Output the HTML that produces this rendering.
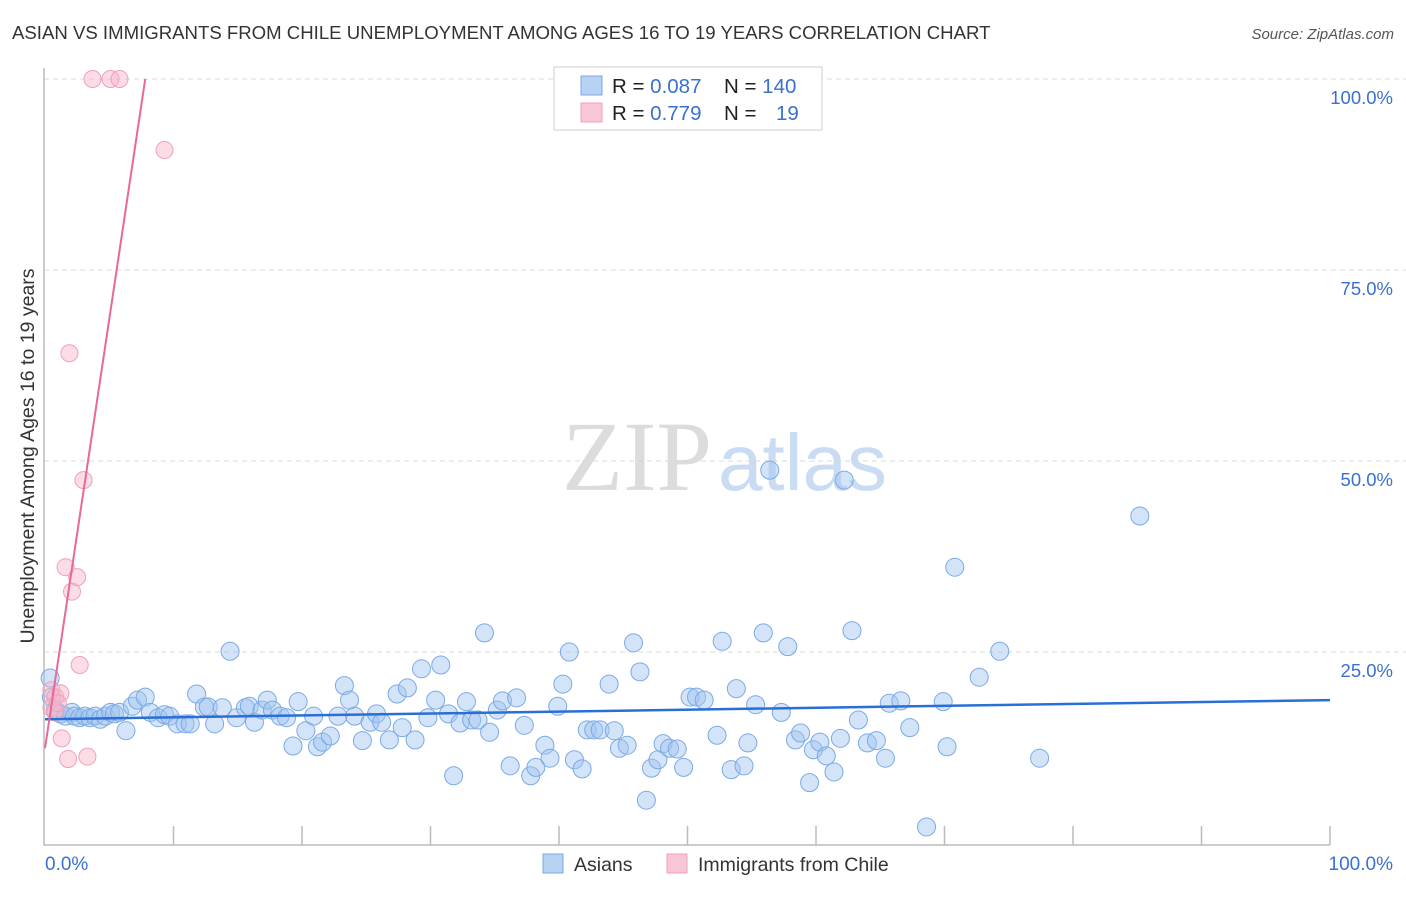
<!DOCTYPE html>
<html><head><meta charset="utf-8"><style>
body{margin:0;background:#fff;font-family:"Liberation Sans",sans-serif}
</style></head><body>
<svg id="chart" width="1406" height="892" viewBox="0 0 1406 892" xmlns="http://www.w3.org/2000/svg" font-family="Liberation Sans, sans-serif">
<text x="12" y="39" font-size="18.6" fill="#333">ASIAN VS IMMIGRANTS FROM CHILE UNEMPLOYMENT AMONG AGES 16 TO 19 YEARS CORRELATION CHART</text>
<text x="1394" y="39" font-size="15" fill="#555" font-style="italic" text-anchor="end">Source: ZipAtlas.com</text>
<g>
<text x="712" y="490" font-size="100" fill="#dcdcdc" text-anchor="end" style="font-family:'Liberation Serif',serif">ZIP</text>
<text x="718" y="490" font-size="80" fill="#c9dcf3" style="font-family:'Liberation Sans',sans-serif">atlas</text>
</g>
<g id="grid"></g>
<g id="axes"></g>
<g id="marks"></g>
<text transform="translate(34,456) rotate(-90)" font-size="19.5" fill="#333" text-anchor="middle">Unemployment Among Ages 16 to 19 years</text>
<text x="45" y="870" font-size="19" fill="#3a70d0">0.0%</text>
<text x="1393" y="870" font-size="19" fill="#3a70d0" text-anchor="end">100.0%</text>
<g>
<rect x="554" y="67" width="268" height="63" fill="#fff" stroke="#ccc"/>
<rect x="581" y="76" width="21" height="19" fill="#b8d2f4" stroke="#7aaae6"/>
<rect x="581" y="103" width="21" height="19" fill="#f9c6d6" stroke="#f0a0b8"/>
<text x="612" y="93" font-size="20.5" fill="#222">R = <tspan fill="#3a70d0">0.087</tspan><tspan x="724">N = </tspan><tspan fill="#3a70d0">140</tspan></text>
<text x="612" y="120" font-size="20.5" fill="#222">R = <tspan fill="#3a70d0"> 0.779</tspan><tspan x="724">N = </tspan><tspan fill="#3a70d0" x="776">19</tspan></text>
</g>
<g>
<rect x="543" y="854" width="20" height="19" fill="#b8d2f4" stroke="#7aaae6"/>
<text x="574" y="871" font-size="19.5" fill="#333">Asians</text>
<rect x="667" y="854" width="20" height="19" fill="#f9c6d6" stroke="#f0a0b8"/>
<text x="698" y="871" font-size="19.5" fill="#333">Immigrants from Chile</text>
</g>
</svg>
<script>
const yTicks=[25,50,75,100];
const yTickLabels=["25.0%","50.0%","75.0%","100.0%"];
const xTicks=[0,10,20,30,40,50,60,70,80,90,100];
const asianX=[0.4,0.5,0.8,1.2,1.6,2.1,2.3,2.7,3.1,3.5,3.9,4.3,4.7,5.1,5.4,5.8,6.3,6.8,7.2,7.8,8.2,8.8,9.3,9.7,10.3,10.9,11.3,11.8,12.4,12.7,13.2,13.8,14.4,14.9,15.6,15.9,16.3,16.9,17.3,17.7,18.3,18.8,19.3,19.7,20.3,20.9,21.2,21.6,22.2,22.8,23.3,23.7,24.1,24.7,25.3,25.8,26.2,26.8,27.4,27.8,28.2,28.8,29.3,29.8,30.4,30.8,31.4,31.8,32.3,32.8,33.2,33.7,34.2,34.6,35.2,35.6,36.2,36.7,37.3,37.8,38.2,38.9,39.3,39.9,40.3,40.8,41.2,41.8,42.2,42.7,43.2,43.9,44.3,44.7,45.3,45.8,46.3,46.8,47.2,47.7,48.1,48.6,49.2,49.7,50.2,50.7,51.3,52.3,52.7,53.4,53.8,54.4,54.7,55.3,55.9,56.4,57.3,57.8,58.4,58.8,59.5,59.8,60.3,60.8,61.4,61.9,62.2,62.8,63.3,64.0,64.7,65.4,65.7,66.6,67.3,68.6,69.9,70.2,70.8,72.7,74.3,77.4,85.2];
const asianY=[21.6,19.1,17.4,16.9,16.6,17.1,16.6,16.4,16.6,16.4,16.6,16.2,16.6,17.1,16.9,17.1,14.7,17.9,18.7,19.1,17.1,16.4,16.8,16.6,15.6,15.6,15.6,19.5,17.8,17.8,15.6,17.7,25.1,16.4,17.7,17.9,15.8,17.4,18.7,17.4,16.6,16.4,12.7,18.5,14.7,16.6,12.6,13.2,14.0,16.6,20.6,18.7,16.6,13.4,15.8,16.9,15.8,13.5,19.5,15.1,20.3,13.5,22.8,16.4,18.7,23.3,16.9,8.8,15.7,18.5,16.1,16.1,27.5,14.5,17.4,18.6,10.1,19.0,15.4,8.8,9.9,12.8,11.1,17.9,20.8,25.0,10.9,9.7,14.8,14.8,14.8,20.8,14.7,12.4,12.8,26.2,22.4,5.6,9.8,10.9,13.0,12.4,12.3,9.9,19.1,19.1,18.7,14.1,26.4,9.6,20.2,10.1,13.1,18.1,27.5,48.8,17.1,25.7,13.5,14.4,7.9,12.2,13.2,11.4,9.3,13.7,47.5,27.8,16.1,13.1,13.4,11.1,18.3,18.6,15.1,2.1,18.5,12.6,36.1,21.7,25.1,11.1,42.8];
const chileX=[0.5,0.8,1.2,0.5,0.8,1.3,1.8,3.3,2.1,1.6,2.5,2.7,3.0,1.9,3.7,5.1,5.8,9.3,1.0];
const chileY=[20.0,19.1,19.6,17.7,17.1,13.7,11.0,11.3,32.9,36.1,34.8,23.3,47.5,64.1,100,100,100,90.7,18.3];
const asianTrend=[16.2,18.7];
const chileTrend=[12.4,100];
const chileTrendEnd=7.8;

const NS="http://www.w3.org/2000/svg";
const X0=45,X1=1330,Y0=843,Y100=79;
const sx=v=>X0+(X1-X0)*v/100;
const sy=v=>Y0-(Y0-Y100)*v/100;
function mk(tag,attrs,parent){const e=document.createElementNS(NS,tag);for(const k in attrs)e.setAttribute(k,attrs[k]);document.getElementById(parent).appendChild(e);return e;}

yTicks.forEach((t,i)=>{
  const g=mk('line',{x1:44,x2:1420,y1:sy(t),y2:sy(t),stroke:'#d8d8d8','stroke-dasharray':'5,4'},'grid');
  
  
  const tx=mk('text',{x:1393,y:sy(t)+25,'font-size':18.5,fill:'#3a70d0','text-anchor':'end'},'grid');
  tx.textContent=yTickLabels[i];
  
  
});
const ax=mk('path',{d:`M44 68 V845 H1330`,fill:'none',stroke:'#bbb','stroke-width':1.5},'axes');


xTicks.forEach(t=>{
  if(t===0)return;
  const l=mk('line',{x1:sx(t),x2:sx(t),y1:826,y2:845,stroke:'#bbb','stroke-width':1.5},'axes');
  
  
});
asianX.forEach((x,i)=>{
  const c=mk('circle',{cx:sx(x),cy:sy(asianY[i]),r:9,fill:'rgba(160,196,240,0.45)',stroke:'#7aaae6','stroke-width':1},'marks');
  
  
});
chileX.forEach((x,i)=>{
  const c=mk('circle',{cx:sx(x),cy:sy(chileY[i]),r:8.5,fill:'rgba(248,180,200,0.45)',stroke:'#f0a0b8','stroke-width':1},'marks');
  
  
});
const la=mk('line',{x1:sx(0),y1:sy(asianTrend[0]),x2:sx(100),y2:sy(asianTrend[1]),stroke:'#2a6fd6','stroke-width':2.5},'marks');


const lc=mk('line',{x1:sx(0),y1:sy(chileTrend[0]),x2:sx(chileTrendEnd),y2:sy(chileTrend[1]),stroke:'#e8689a','stroke-width':2},'marks');


</script>
</body></html>
